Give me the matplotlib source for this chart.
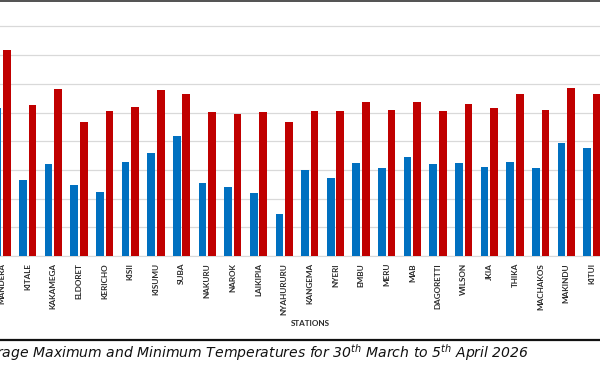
import numpy as np
import matplotlib.pyplot as plt
from matplotlib.lines import Line2D

plt.rcParams['mathtext.fontset'] = 'custom'
plt.rcParams['mathtext.it'] = 'DejaVu Sans:italic'
plt.rcParams['mathtext.rm'] = 'DejaVu Sans:italic'

stations = ['MANDERA', 'KITALE', 'KAKAMEGA', 'ELDORET', 'KERICHO', 'KISII',
            'KISUMU', 'SUBA', 'NAKURU', 'NAROK', 'LAIKIPIA', 'NYAHURURU',
            'KANGEMA', 'NYERI', 'EMBU', 'MERU', 'MAB', 'DAGORETTI', 'WILSON',
            'JKIA', 'THIKA', 'MACHAKOS', 'MAKINDU', 'KITUI']
t_min = [25.7, 13.3, 16.0, 12.4, 11.1, 16.3, 17.9, 20.9, 12.7, 12.0, 10.9, 7.3,
         15.0, 13.6, 16.2, 15.3, 17.2, 16.0, 16.2, 15.5, 16.4, 15.4, 19.7, 18.9]
t_max = [35.9, 26.3, 29.1, 23.3, 25.3, 26.0, 29.0, 28.2, 25.1, 24.7, 25.1, 23.3,
         25.3, 25.2, 26.8, 25.4, 26.8, 25.2, 26.4, 25.8, 28.2, 25.4, 29.3, 28.3]

W, H = 600, 367
fig = plt.figure(figsize=(6, 3.67), dpi=100)

# the reference is a crop, so the axes run past both figure edges
x0, x1 = -1.5, 23.8
group_px = 25.65
left_px = 2.0 + x0 * group_px
ax = fig.add_axes([left_px / W, (H - 256) / H, (x1 - x0) * group_px / W, 256 / H])

x = np.arange(len(stations))
bw = 0.30
ax.bar(x - 0.187, t_min, bw, color='#0070C0', zorder=3)
ax.bar(x + 0.187, t_max, bw, color='#C00000', zorder=3)

ax.set_xlim(x0, x1)
ax.set_ylim(0, 44.6)
ax.set_yticks(np.arange(0, 45, 5))
ax.yaxis.grid(True, color='#d9d9d9', linewidth=0.9, zorder=0)
ax.tick_params(axis='y', left=False, labelleft=False)
ax.tick_params(axis='x', length=0, pad=5)
ax.set_xticks(x)
ax.set_xticklabels(stations, rotation=90, fontsize=5.9, fontweight='bold',
                   family='Lato', color='#2b2b2b', va='top')
for s in ax.spines.values():
    s.set_visible(False)
ax.spines['bottom'].set_visible(True)
ax.spines['bottom'].set_color('#d9d9d9')

fig.text(310 / W, 1 - 324 / H, 'STATIONS', ha='center', va='center',
         fontsize=5.9, fontweight='bold', family='Lato', color='#2b2b2b')

# frame lines
fig.add_artist(Line2D([0, 1], [1 - 0.8 / H, 1 - 0.8 / H], color='#333333', lw=1.2))
fig.add_artist(Line2D([0, 1], [1 - 340 / H, 1 - 340 / H], color='#111111', lw=1.6))

fig.text(529 / W, 1 - 353 / H,
         r'Figure 1: Average Maximum and Minimum Temperatures for 30$^{th}$ March to 5$^{th}$ April 2026',
         ha='right', va='center', fontsize=10.08, style='italic', family='DejaVu Sans',
         color='#111111')

fig.savefig('out.png', dpi=100)
